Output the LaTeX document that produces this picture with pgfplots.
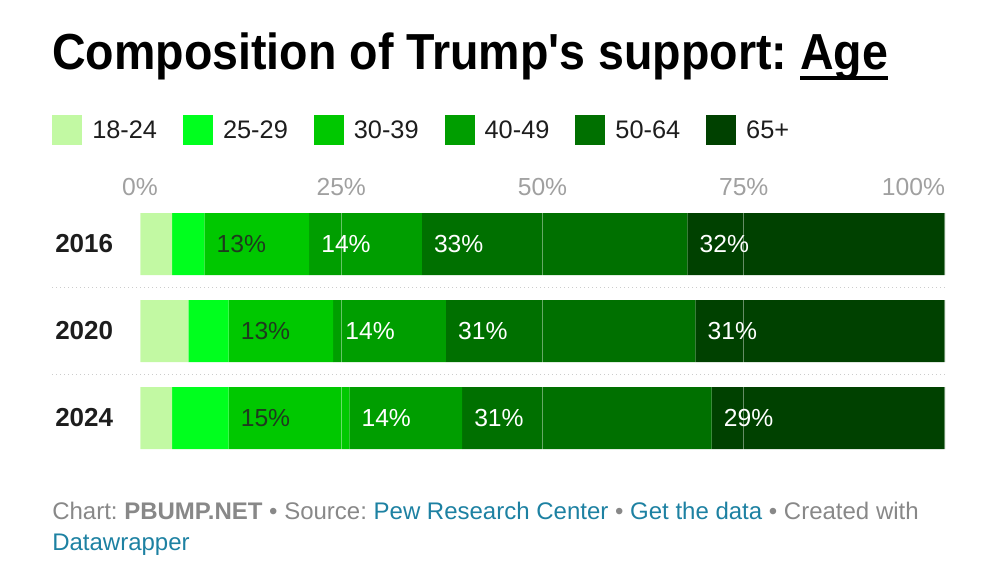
\documentclass[border=0pt]{standalone}
\usepackage{pgfplots}
\pgfplotsset{compat=1.18}
\usepackage{fontspec}
\setmainfont{Liberation Sans}
\usepackage{graphicx}

\definecolor{c1}{HTML}{C2F9A3}
\definecolor{c2}{HTML}{00FF1E}
\definecolor{c3}{HTML}{00C800}
\definecolor{c4}{HTML}{009E00}
\definecolor{c5}{HTML}{007000}
\definecolor{c6}{HTML}{004100}
\definecolor{tickgray}{HTML}{A0A0A0}
\definecolor{foot}{HTML}{888888}
\definecolor{link}{HTML}{1D81A2}
\definecolor{ink}{HTML}{1D1D1D}
\definecolor{darklab}{HTML}{1E3A1E}
\definecolor{sepgray}{HTML}{CCCCCC}

% 1px = 0.75pt, origin at top left
\pgfplotsset{
  frame/.style={at={(105pt,-150.375pt)}, anchor=north west,
    width=603.75pt, height=195.75pt, scale only axis,
    xmin=0, xmax=100, ymin=-0.5, ymax=2.5, y dir=reverse},
  sq/.style={legend image code/.code={\fill[#1] (0pt,-11.25pt) rectangle (22.5pt,11.25pt);}},
  labs/.style={only marks, mark=text, text mark={},
    nodes near coords, point meta=explicit symbolic,
    nodes near coords style={anchor=west, inner sep=0pt, xshift=9pt,
      text=#1, font=\fontsize{18.5}{20}\selectfont}},
}

\begin{document}
\frenchspacing
\begin{tikzpicture}
\useasboundingbox (0,0) rectangle (750pt,-433.5pt);

\node[anchor=base west, inner sep=0pt, text=black] at (39pt,-51.75pt)
  {\resizebox{627pt}{\height}{\fontsize{38}{40}\selectfont\bfseries
   Composition of Trump\textquotesingle s support: {\setbox0\hbox{Age}\rlap{\rule[-8pt]{\wd0}{2.8pt}}\box0}}};

% bars
\begin{axis}[frame, hide axis, xbar stacked, bar width=46.5pt,
  legend columns=6,
  legend style={at={(-0.10932,1.32759)}, anchor=north west, draw=none, fill=none,
    inner sep=0pt, nodes={inner sep=0pt, text=ink, font=\fontsize{19}{21}\selectfont},
    /tikz/every odd column/.append style={column sep=7.5pt},
    /tikz/every even column/.append style={column sep=19.5pt}},
  legend cell align=left]
\addplot[fill=c1, draw=none, sq=c1] coordinates {(4,0) (6,1) (4,2)};
\addplot[fill=c2, draw=none, sq=c2] coordinates {(4,0) (5,1) (7,2)};
\addplot[fill=c3, draw=none, sq=c3] coordinates {(13,0) (13,1) (15,2)};
\addplot[fill=c4, draw=none, sq=c4] coordinates {(14,0) (14,1) (14,2)};
\addplot[fill=c5, draw=none, sq=c5] coordinates {(33,0) (31,1) (31,2)};
\addplot[fill=c6, draw=none, sq=c6] coordinates {(32,0) (31,1) (29,2)};
\legend{18-24,25-29,30-39,40-49,50-64,65+}
\end{axis}

% grid, ticks and value labels on top
\begin{axis}[frame, clip=false,
  axis line style={draw=none}, tick style={draw=none}, major tick length=0pt,
  xmajorgrids, major grid style={white, opacity=0.4, line width=1.1pt},
  xtick={0,25,50,75,100},
  xticklabels={0\%,25\%,50\%,75\%,\makebox[0pt][r]{100\%}},
  xticklabel pos=upper,
  xticklabel style={anchor=base, inner sep=0pt, yshift=3.4pt, text=tickgray,
    font=\fontsize{18.5}{20}\selectfont},
  ytick={0,1,2}, yticklabels={2016,2020,2024},
  yticklabel style={anchor=west, inner sep=0pt, xshift=-63.75pt, text=ink,
    font=\fontsize{19.5}{21}\selectfont\bfseries}]
\addplot[labs=darklab] coordinates {(8,0) [13\%] (11,1) [13\%] (11,2) [15\%]};
\addplot[labs=white] coordinates {
  (21,0) [14\%] (35,0) [33\%] (68,0) [32\%]
  (24,1) [14\%] (38,1) [31\%] (69,1) [31\%]
  (26,2) [14\%] (40,2) [31\%] (71,2) [29\%]};
\draw[sepgray, line width=1pt, dash pattern=on 1pt off 2pt]
  (axis cs:-10.93,0.5) -- (axis cs:100,0.5)
  (axis cs:-10.93,1.5) -- (axis cs:100,1.5);
\end{axis}

\node[anchor=base west, inner sep=0pt, text=foot, font=\fontsize{18}{23.25}\selectfont]
  at (39pt,-389.25pt)
  {Chart: \textbf{PBUMP.NET} \textbullet{} Source: \textcolor{link}{Pew Research Center} \textbullet{} \textcolor{link}{Get the data} \textbullet{} Created with};
\node[anchor=base west, inner sep=0pt, text=link, font=\fontsize{18}{23.25}\selectfont]
  at (39pt,-412.5pt) {Datawrapper};
\end{tikzpicture}
\end{document}
